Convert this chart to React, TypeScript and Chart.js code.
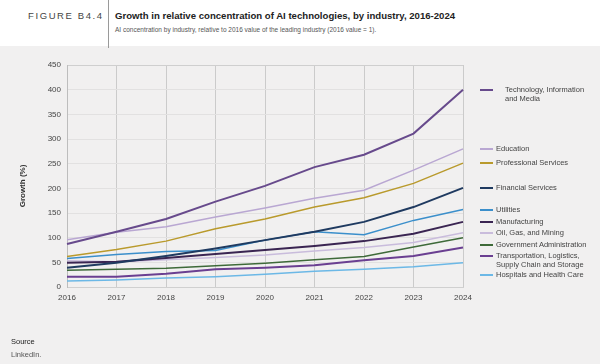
import React, { useEffect, useRef } from "react";
import { Chart, registerables } from "chart.js";

Chart.register(...registerables);

const years = ["2016", "2017", "2018", "2019", "2020", "2021", "2022", "2023", "2024"];
const yTicks = [0, 50, 100, 150, 200, 250, 300, 350, 400, 450];

const tech = [87, 112, 138, 173, 205, 243, 268, 311, 400];
const education = [96, 111, 122, 142, 160, 180, 196, 237, 280];
const professional = [62, 76, 93, 118, 138, 162, 181, 210, 251];
const financial = [39, 49, 63, 78, 95, 112, 132, 162, 201];
const utilities = [58, 66, 72, 74, 95, 112, 106, 135, 157];
const manufacturing = [49, 51, 59, 67, 75, 83, 93, 108, 132];
const oilGas = [53, 51, 55, 60, 65, 73, 80, 90, 110];
const government = [34, 36, 38, 43, 48, 55, 62, 81, 100];
const transport = [21, 21, 27, 36, 39, 44, 54, 63, 80];
const hospitals = [12, 14, 18, 21, 26, 32, 36, 41, 49];

const seriesNames = [
  "Technology, Information and Media",
  "Education",
  "Professional Services",
  "Financial Services",
  "Utilities",
  "Manufacturing",
  "Oil, Gas, and Mining",
  "Government Administration",
  "Transportation, Logistics, Supply Chain and Storage",
  "Hospitals and Health Care",
];
const seriesData = [tech, education, professional, financial, utilities, manufacturing, oilGas, government, transport, hospitals];
const seriesColors = ["#674a8c", "#b9a7d2", "#b99a2c", "#1f3a60", "#3b8fcb", "#3a2552", "#c9bcdc", "#3e6a39", "#6a3f91", "#6cb8e6"];
const seriesWidths = [2, 1.5, 1.5, 2, 1.5, 2, 1.5, 1.5, 2, 1.5];

const FONT = "'Liberation Sans', Arial, Helvetica, sans-serif";

// legend entries: lines of text and vertical center (px)
const legendItems = [
  { lines: ["Technology, Information", "and Media"], y: 90, indent: 9 },
  { lines: ["Education"], y: 149, indent: 0 },
  { lines: ["Professional Services"], y: 163, indent: 0 },
  { lines: ["Financial Services"], y: 188, indent: 0 },
  { lines: ["Utilities"], y: 210, indent: 0 },
  { lines: ["Manufacturing"], y: 222, indent: 0 },
  { lines: ["Oil, Gas, and Mining"], y: 233, indent: 0 },
  { lines: ["Government Administration"], y: 245, indent: 0 },
  { lines: ["Transportation, Logistics,", "Supply Chain and Storage"], y: 256, indent: 0 },
  { lines: ["Hospitals and Health Care"], y: 275, indent: 0 },
];

export default function App() {
  const ref = useRef<HTMLCanvasElement>(null);

  useEffect(() => {
    if (!ref.current) return;
    const chart = new Chart(ref.current, {
      type: "line",
      data: {
        labels: years,
        datasets: seriesNames.map((n, i) => ({
          label: n,
          data: seriesData[i],
          borderColor: seriesColors[i],
          backgroundColor: seriesColors[i],
          borderWidth: seriesWidths[i],
          pointRadius: 0,
          tension: 0,
          fill: false,
        })),
      },
      options: {
        animation: false,
        responsive: false,
        maintainAspectRatio: false,
        layout: { padding: { top: 65, right: 137, left: 0, bottom: 0 } },
        plugins: { legend: { display: false }, tooltip: { enabled: false } },
        scales: {
          x: {
            type: "category",
            offset: false,
            afterFit: (s: any) => {
              s.height = 77;
            },
            grid: { color: "#cbcbcb", lineWidth: 1, drawTicks: false },
            border: { display: true, color: "#d0d0d0" },
            ticks: { color: "#444", font: { family: FONT, size: 8 }, padding: 6, maxRotation: 0, autoSkip: false },
          },
          y: {
            min: 0,
            max: 450,
            afterFit: (s: any) => {
              s.width = 67;
            },
            afterBuildTicks: (s: any) => {
              s.ticks = yTicks.map((v) => ({ value: v }));
            },
            grid: {
              color: (c: any) => (c.tick && c.tick.value === 450 ? "#cfcfcf" : "#e2e1e1"),
              lineWidth: 1,
              drawTicks: false,
            },
            border: { display: true, color: "#bdbdbd" },
            ticks: { color: "#444", font: { family: FONT, size: 8 }, padding: 6 },
          },
        },
      },
    });
    return () => chart.destroy();
  }, []);

  return (
    <div style={{ position: "absolute", left: 0, top: 0, width: 600, height: 364, background: "#f1f0f0", fontFamily: FONT, overflow: "hidden" }}>
      <div style={{ position: "absolute", left: 0, top: 0, width: 600, height: 46, background: "#ffffff" }} />
      <div style={{ position: "absolute", left: 108, top: 0, width: 1, height: 48, background: "#9a9a9a" }} />
      <div style={{ position: "absolute", left: 28, top: 10, fontSize: 9.5, letterSpacing: 1.6, color: "#444", whiteSpace: "nowrap", lineHeight: "12px" }}>
        FIGURE B4.4
      </div>
      <div style={{ position: "absolute", left: 115, top: 9, fontSize: 9.6, fontWeight: "bold", color: "#222", whiteSpace: "nowrap", lineHeight: "13px" }}>
        Growth in relative concentration of AI technologies, by industry, 2016-2024
      </div>
      <div style={{ position: "absolute", left: 115, top: 25, fontSize: 6.5, color: "#555", whiteSpace: "nowrap", lineHeight: "9px" }}>
        AI concentration by industry, relative to 2016 value of the leading industry (2016 value = 1).
      </div>
      <canvas ref={ref} width={600} height={364} style={{ position: "absolute", left: 0, top: 0, width: 600, height: 364 }} />
      <div
        style={{
          position: "absolute",
          left: 23,
          top: 186,
          transform: "translate(-50%, -50%) rotate(-90deg)",
          fontSize: 8,
          fontWeight: "bold",
          color: "#333",
          whiteSpace: "nowrap",
          lineHeight: "10px",
        }}
      >
        Growth (%)
      </div>
      {legendItems.map((it, i) => (
        <React.Fragment key={i}>
          <div style={{ position: "absolute", left: 480, top: it.y - 1, width: 13, height: 2, background: seriesColors[i] }} />
          <div
            style={{
              position: "absolute",
              left: 496 + it.indent,
              top: it.y - 5,
              fontSize: 7.5,
              color: "#444",
              whiteSpace: "nowrap",
              lineHeight: "9px",
            }}
          >
            {it.lines.map((l, j) => (
              <div key={j}>{l}</div>
            ))}
          </div>
        </React.Fragment>
      ))}
      <div style={{ position: "absolute", left: 11, top: 337, fontSize: 7.5, color: "#222", lineHeight: "10px" }}>Source</div>
      <div style={{ position: "absolute", left: 11, top: 350, fontSize: 7.5, color: "#555", lineHeight: "10px" }}>LinkedIn.</div>
    </div>
  );
}
